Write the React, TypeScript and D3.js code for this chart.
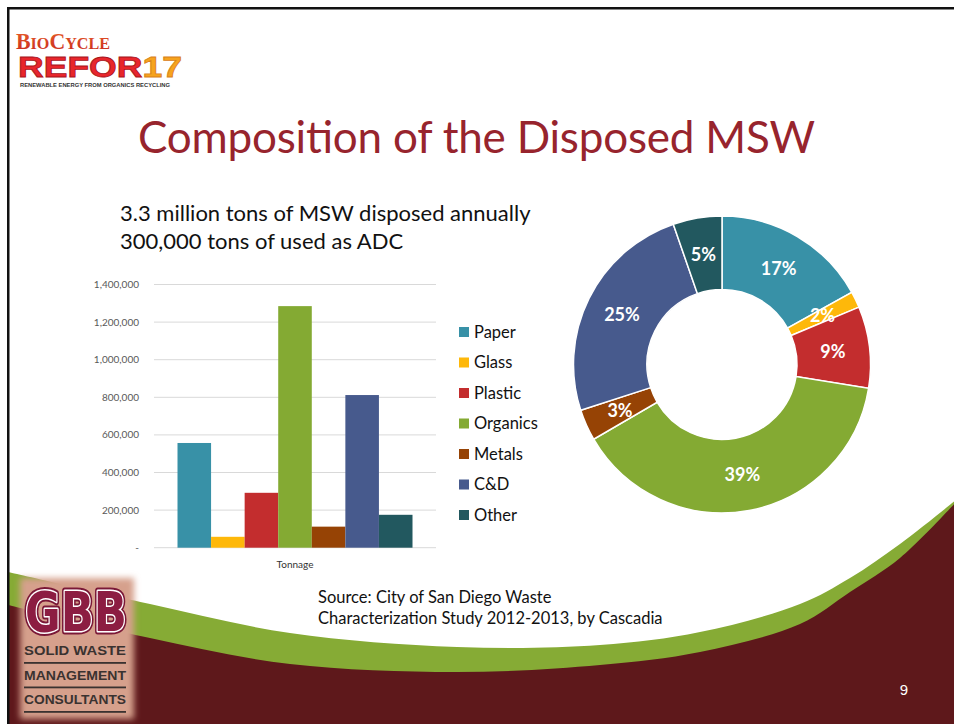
import React from "react";
import * as d3 from "d3";

const categories = ["Paper", "Glass", "Plastic", "Organics", "Metals", "C&D", "Other"];
const tonnage = [557000, 58000, 292000, 1285000, 112000, 812000, 175000];
const seriesColors = ["#3891A7", "#FEB80A", "#C32D2E", "#84AA33", "#964305", "#475A8D", "#22585F"];
const yTicks = [0, 200000, 400000, 600000, 800000, 1000000, 1200000, 1400000];
const groupLabel = "Tonnage";

const titleText = "Composition of the Disposed MSW";
const subtitleLines = ["3.3 million tons of MSW disposed annually", "300,000 tons of used as ADC"];
const sourceLines = ["Source: City of San Diego Waste", "Characterization Study 2012-2013, by Cascadia"];

// decorative swoosh outline points
const greenTop: [number, number][] = [
  [8, 572], [150, 604], [290, 633], [457, 647], [600, 645], [700, 632], [800, 604], [850, 578], [900, 544], [956, 500],
];
const maroonTop: [number, number][] = [
  [8, 605], [150, 638], [290, 664], [457, 672], [600, 665], [700, 652], [800, 624], [850, 592], [900, 558], [956, 502],
];

const FONT = "Lato, 'Open Sans', sans-serif";

export default function App() {
  const W = 954, H = 724;

  // bar chart scales
  const x0 = d3.scaleBand<string>().domain([groupLabel]).range([154, 436]).paddingOuter(0.1).paddingInner(0);
  const x1 = d3.scaleBand<string>().domain(categories).range([0, x0.bandwidth()]).padding(0);
  const y = d3.scaleLinear().domain([0, 1400000]).range([547.7, 284.5]);
  const fmt = d3.format(",");

  // donut
  const total = d3.sum(tonnage);
  const pie = d3.pie<number>().sort(null).value((d) => d);
  const arcs = pie(tonnage);
  const arc = d3.arc<d3.PieArcDatum<number>>().innerRadius(75).outerRadius(148.5);
  const cx = 722, cy = 364.5;

  const lineGen = d3.line().curve(d3.curveCatmullRom.alpha(0.5));
  const greenPath = lineGen(greenTop) + `L956,730L8,730Z`;
  const maroonPath = lineGen(maroonTop) + `L956,730L8,730Z`;

  return (
    <svg width={W} height={H} style={{ position: "absolute", left: 0, top: 0, background: "#fff" }} xmlns="http://www.w3.org/2000/svg">
      <defs>
        <filter id="blur" x="-20%" y="-20%" width="140%" height="140%">
          <feGaussianBlur stdDeviation="3" />
        </filter>
        <linearGradient id="bioGrad" x1="0" y1="0" x2="0" y2="1">
          <stop offset="0" stopColor="#E8622A" />
          <stop offset="1" stopColor="#C8281E" />
        </linearGradient>
      </defs>
      <rect x={0} y={0} width={W} height={H} fill="#fff" />

      {/* bottom decoration */}
      <path d={greenPath} fill="#86AB35" />
      <path d={maroonPath} fill="#5E181B" />

      {/* slide border */}
      <rect x={7} y={7} width={W} height={2.5} fill="#111" />
      <rect x={7} y={7} width={2.5} height={H} fill="#111" />

      {/* BioCycle logo */}
      <g>
        <text x={16} y={48.5} fontFamily="'Liberation Serif', serif" fontWeight="bold" fill="url(#bioGrad)" textLength={94} lengthAdjust="spacingAndGlyphs">
          <tspan fontSize={23}>B</tspan><tspan fontSize={17}>IO</tspan><tspan fontSize={23}>C</tspan><tspan fontSize={17}>YCLE</tspan>
        </text>
        <text x={18} y={77} fontFamily="'Liberation Sans', sans-serif" fontWeight="bold" fontSize={29} textLength={164} lengthAdjust="spacingAndGlyphs">
          <tspan fill="#E8262C" stroke="#A8141A" strokeWidth={0.8}>REFOR</tspan><tspan fill="#F6A31E" stroke="#D9801A" strokeWidth={0.8}>17</tspan>
        </text>
        <text x={20} y={87} fontFamily="'Liberation Sans', sans-serif" fontWeight="bold" fontSize={5.5} fill="#333" textLength={150} lengthAdjust="spacingAndGlyphs">
          RENEWABLE ENERGY FROM ORGANICS RECYCLING
        </text>
      </g>

      {/* title */}
      <text x={138} y={153} fontFamily={FONT} fontSize={44} fill="#97242D" textLength={677} lengthAdjust="spacing">{titleText}</text>

      {/* subtitle */}
      {subtitleLines.map((t, i) => (
        <text key={t} x={120} y={221 + i * 27.5} fontFamily={FONT} fontSize={22} fill="#111">{t}</text>
      ))}

      {/* bar chart gridlines & axis labels */}
      {yTicks.map((t) => (
        <g key={t}>
          <line x1={154} x2={436} y1={y(t)} y2={y(t)} stroke="#D9D9D9" strokeWidth={1} />
          <text x={139} y={y(t)} dy="0.35em" textAnchor="end" fontFamily={FONT} fontSize={10} fill="#595959">
            {t === 0 ? "-" : fmt(t)}
          </text>
        </g>
      ))}
      {categories.map((c, i) => (
        <rect key={c} x={(x0(groupLabel) ?? 0) + (x1(c) ?? 0)} y={y(tonnage[i])} width={x1.bandwidth()} height={y(0) - y(tonnage[i])} fill={seriesColors[i]} />
      ))}
      <text x={(x0(groupLabel) ?? 0) + x0.bandwidth() / 2} y={568} textAnchor="middle" fontFamily={FONT} fontSize={10} fill="#333">{groupLabel}</text>

      {/* legend */}
      {categories.map((c, i) => (
        <g key={c} transform={`translate(459, ${332 + i * 30.5})`}>
          <rect x={0} y={-5} width={10} height={10} fill={seriesColors[i]} />
          <text x={15} y={0} dy="0.36em" fontFamily={FONT} fontSize={16.5} fill="#111">{c}</text>
        </g>
      ))}

      {/* donut */}
      <g transform={`translate(${cx}, ${cy})`}>
        {arcs.map((a, i) => (
          <path key={i} d={arc(a) ?? ""} fill={seriesColors[i]} stroke="#fff" strokeWidth={1.5} />
        ))}
        {arcs.map((a, i) => {
          const [lx, ly] = arc.centroid(a);
          return (
            <text key={"l" + i} x={lx} y={ly} dy="0.36em" textAnchor="middle" fontFamily={FONT} fontWeight="bold" fontSize={18} fill="#fff">
              {Math.round((tonnage[i] / total) * 100)}%
            </text>
          );
        })}
      </g>

      {/* source */}
      {sourceLines.map((t, i) => (
        <text key={t} x={318} y={602.5 + i * 21.5} fontFamily={FONT} fontSize={16.5} fill="#111">{t}</text>
      ))}

      {/* page number */}
      <text x={904} y={695} textAnchor="middle" fontFamily="'Liberation Sans', sans-serif" fontSize={15} fill="#fff">9</text>

      {/* GBB logo */}
      <g>
        <rect x={20} y={578} width={114} height={141} fill="#D6A08C" filter="url(#blur)" />
        <text x={25} y={631} fontFamily="'DejaVu Sans', sans-serif" fontWeight="bold" fontSize={56} fill="none" stroke="#7A1837" strokeWidth={7} strokeLinejoin="round" textLength={102} lengthAdjust="spacingAndGlyphs">GBB</text>
        <text x={25} y={631} fontFamily="'DejaVu Sans', sans-serif" fontWeight="bold" fontSize={56} fill="#8C1D42" stroke="#fff" strokeWidth={3} strokeLinejoin="round" style={{ paintOrder: "stroke" }} textLength={102} lengthAdjust="spacingAndGlyphs">GBB</text>
        {["SOLID WASTE", "MANAGEMENT", "CONSULTANTS"].map((t, i) => (
          <g key={t}>
            <text x={24} y={655 + i * 24.5} fontFamily="'Liberation Sans', sans-serif" fontWeight="bold" fontSize={12} fill="#3A3230" textLength={102} lengthAdjust="spacingAndGlyphs">{t}</text>
            <rect x={24} y={662 + i * 24.5} width={102} height={1.8} fill="#3A3230" />
          </g>
        ))}
      </g>
    </svg>
  );
}
